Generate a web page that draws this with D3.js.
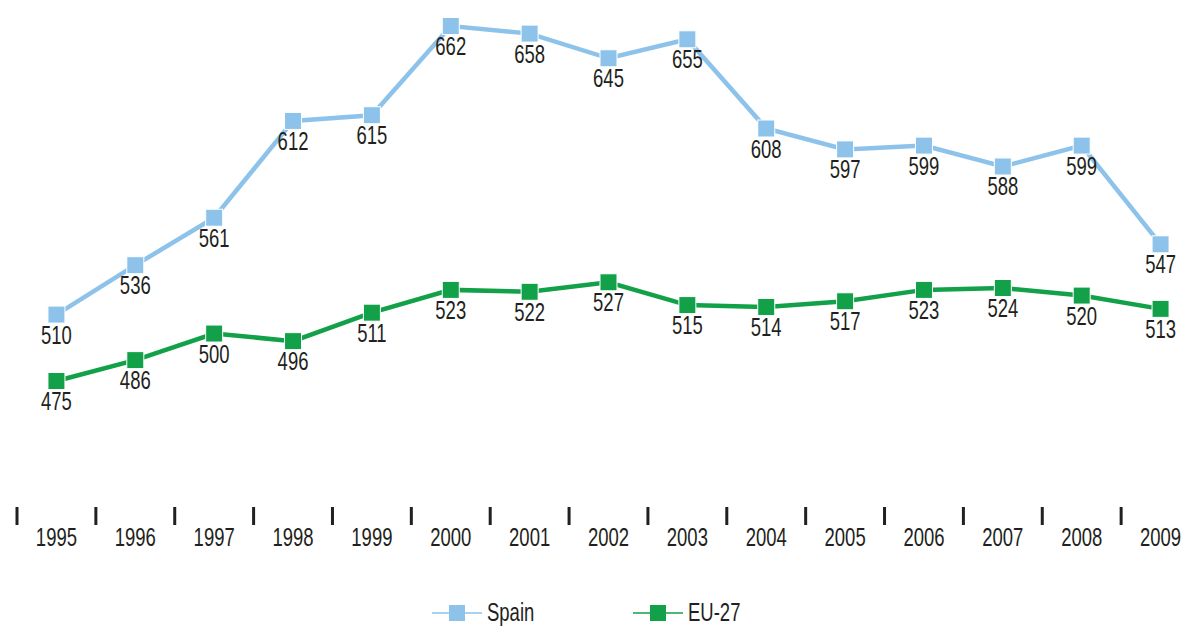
<!DOCTYPE html>
<html>
<head>
<meta charset="utf-8">
<script src="https://cdnjs.cloudflare.com/ajax/libs/d3/7.8.5/d3.min.js"></script>
<style>
body{margin:0;background:#fff;}
text{font-family:"Liberation Sans","DejaVu Sans",sans-serif;fill:#231f20;}
</style>
</head>
<body>
<div id="chart"></div>
<script>
var years=["1995","1996","1997","1998","1999","2000","2001","2002","2003","2004","2005","2006","2007","2008","2009"];
var spain=[510,536,561,612,615,662,658,645,655,608,597,599,588,599,547];
var eu27=[475,486,500,496,511,523,522,527,515,514,517,523,524,520,513];
var seriesNames=["Spain","EU-27"];
var colors=["#8dc3ea","#12a049"];

var width=1197,height=626;
var squeeze=0.74;
var svg=d3.select("#chart").append("svg")
	.attr("width",width)
	.attr("height",height);

//condensed text helper
function label(sel,x,y,anchor,txt){
	return sel.append("text")
		.attr("transform","translate("+x+","+y+") scale("+squeeze+",1)")
		.attr("text-anchor",anchor)
		.attr("font-size",25)
		.text(txt);
}

//scales
var xscale=d3.scaleBand()
	.domain(years)
	.range([17,1200]);
var yscale=d3.scaleLinear()
	.domain([475,662])
	.range([381,26]);
function cx(i){return xscale(years[i])+xscale.bandwidth()/2;}

//axis: ticks at band edges, labels at centres
var axis=svg.append("g");
axis.selectAll("line")
	.data(years)
	.enter().append("line")
	.attr("x1",function(d){return xscale(d);})
	.attr("x2",function(d){return xscale(d);})
	.attr("y1",507)
	.attr("y2",525)
	.attr("stroke","#231f20")
	.attr("stroke-width",3);
years.forEach(function(d,i){
	label(axis,cx(i),546,"middle",d);
});

var line=d3.line()
	.x(function(d,i){return cx(i);})
	.y(function(d){return yscale(d);});

[spain,eu27].forEach(function(vals,s){
	var g=svg.append("g");
	g.append("path")
		.datum(vals)
		.attr("d",line)
		.attr("fill","none")
		.attr("stroke",colors[s])
		.attr("stroke-width",4.5);
	g.selectAll("rect")
		.data(vals)
		.enter().append("rect")
		.attr("x",function(d,i){return cx(i)-8.5;})
		.attr("y",function(d){return yscale(d)-8.5;})
		.attr("width",17)
		.attr("height",17)
		.attr("fill",colors[s])
		.attr("stroke","#fff")
		.attr("stroke-width",1);
	vals.forEach(function(d,i){
		label(g,cx(i),yscale(d)+29,"middle",d);
	});
});

//legend
var legX=[432,633];
seriesNames.forEach(function(name,s){
	var lg=svg.append("g").attr("transform","translate("+legX[s]+",613)");
	lg.append("line")
		.attr("x1",0).attr("x2",50)
		.attr("stroke",colors[s])
		.attr("stroke-width",1.5);
	lg.append("rect")
		.attr("x",17).attr("y",-8)
		.attr("width",16).attr("height",16)
		.attr("fill",colors[s]);
	label(lg,55,8,"start",name);
});
</script>
</body>
</html>
